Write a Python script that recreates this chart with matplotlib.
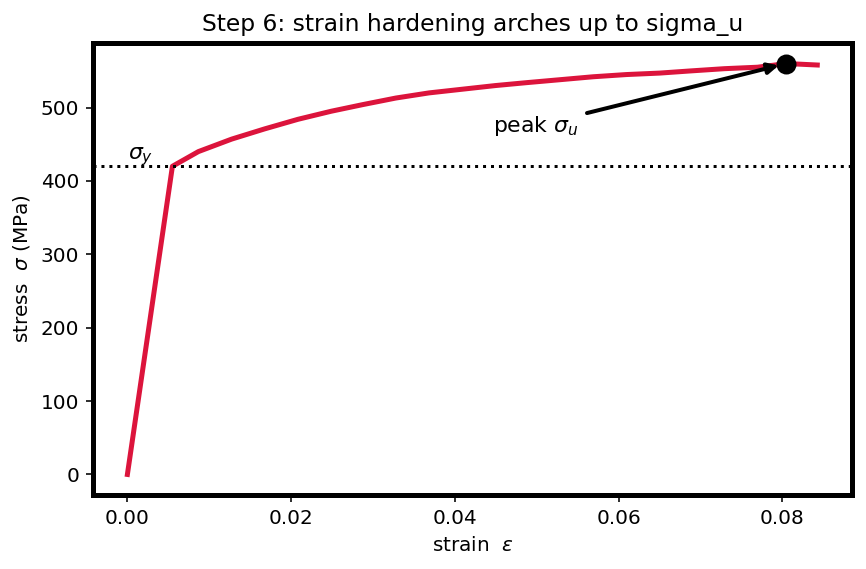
import matplotlib
matplotlib.use("Agg")
import matplotlib.pyplot as plt

strain = [0.0, 0.0055, 0.00867, 0.01273, 0.01678, 0.02083, 0.02489, 0.02873, 0.03279,
          0.03684, 0.04089, 0.04495, 0.04879, 0.05285, 0.0569, 0.06095, 0.06501,
          0.06885, 0.07291, 0.07696, 0.0805, 0.08426]
stress = [0, 420, 440, 457, 471, 484, 495, 504, 513,
          520, 525, 530, 534, 538, 542, 545, 547,
          550, 553, 555, 560, 558]
sigma_y = 420
peak_strain = 0.0805
peak_stress = 560

fig = plt.figure(figsize=(866/144, 569/144), dpi=144)
ax = fig.add_axes([93/866, 1-495/569, (852-93)/866, (495-43)/569])

ax.plot(strain, stress, color="#DC143C", lw=2.5)
ax.axhline(sigma_y, color="black", ls=":", lw=1.5)
ax.plot([peak_strain], [peak_stress], "o", color="black", ms=9)
ax.text(0.0001, sigma_y - 2, r"$\sigma_y$", fontsize=11, va="bottom", ha="left")
ax.annotate(r"peak $\sigma_u$", xy=(peak_strain, peak_stress), xytext=(0.0447, 459),
            fontsize=11, ha="left", va="bottom",
            arrowprops=dict(arrowstyle="-|>", color="black", lw=2, shrinkA=2, shrinkB=4))

ax.set_xlim(-0.0042, 0.0885)
ax.set_ylim(-28, 588)
ax.set_xticks([0.00, 0.02, 0.04, 0.06, 0.08])
ax.set_yticks([0, 100, 200, 300, 400, 500])
for s in ax.spines.values():
    s.set_linewidth(2.5)
ax.set_xlabel(r"strain  $\varepsilon$")
ax.set_ylabel(r"stress  $\sigma$ (MPa)")
ax.set_title("Step 6: strain hardening arches up to sigma_u", fontsize=11.7)

fig.savefig("out.png", dpi=144)
